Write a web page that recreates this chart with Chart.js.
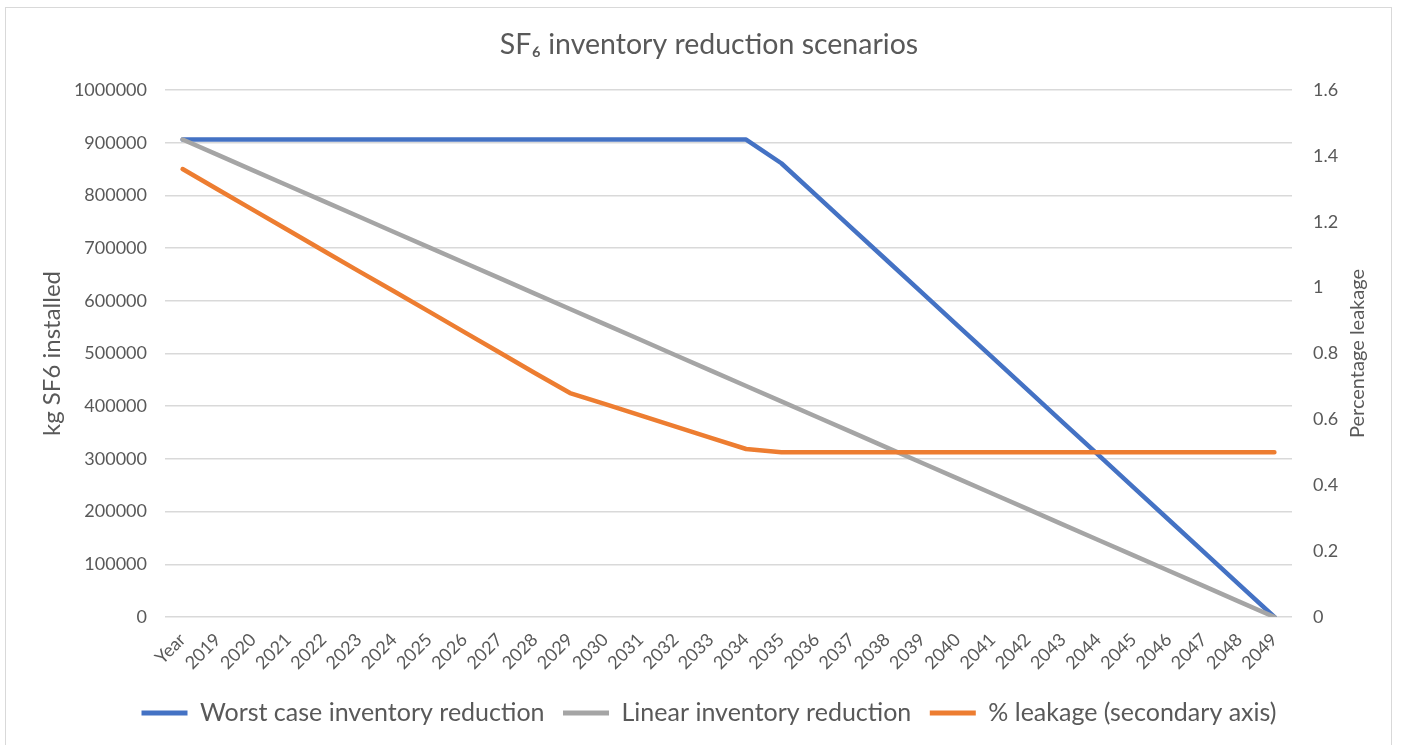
<!DOCTYPE html>
<html>
<head>
<meta charset="utf-8">
<title>SF6 inventory reduction scenarios</title>
<script src="https://cdn.jsdelivr.net/npm/chart.js@4.4.0/dist/chart.umd.min.js"></script>
<style>
    body { margin: 0; background: #fff; overflow: hidden; }
    #frame { position: absolute; left: 5px; top: 7px; width: 1385px; height: 800px; border: 1px solid #d9d9d9; }
    #wrap { position: absolute; left: 0; top: 0; width: 1403px; height: 745px; }
</style>
</head>
<body>
<div id="frame"></div>
<div id="wrap"><canvas id="sf6Chart"></canvas></div>
<script>
// Categories along the x axis
const years = ["Year", "2019", "2020", "2021", "2022", "2023", "2024", "2025", "2026", "2027", "2028",
    "2029", "2030", "2031", "2032", "2033", "2034", "2035", "2036", "2037", "2038",
    "2039", "2040", "2041", "2042", "2043", "2044", "2045", "2046", "2047", "2048", "2049"];

// kg SF6 installed (primary axis)
const worstCase = [906000, 906000, 906000, 906000, 906000, 906000, 906000, 906000, 906000, 906000, 906000,
    906000, 906000, 906000, 906000, 906000, 906000, 861000, 799500, 738000, 676500,
    615000, 553500, 492000, 430500, 369000, 307500, 246000, 184500, 123000, 61500, 0];

const linearReduction = [906000, 876800, 847500, 818300, 789100, 759900, 730600, 701400, 672200, 643000, 613700,
    584500, 555300, 526100, 496800, 467600, 438400, 409200, 379900, 350700, 321500,
    292300, 263000, 233800, 204600, 175400, 146100, 116900, 87700, 58500, 29200, 0];

// % leakage (secondary axis)
const leakage = [1.36, 1.298, 1.236, 1.174, 1.112, 1.05, 0.989, 0.927, 0.865, 0.803, 0.741,
    0.68, 0.646, 0.612, 0.578, 0.544, 0.51, 0.5, 0.5, 0.5, 0.5,
    0.5, 0.5, 0.5, 0.5, 0.5, 0.5, 0.5, 0.5, 0.5, 0.5, 0.5];

const textColor = "#595959";
const gridColor = "#d9d9d9";
const fontFamily = "Lato, 'Open Sans', sans-serif";

// Secondary axis title reads bottom-to-top like Excel, so draw it ourselves
const rightTitle = {
    id: "rightTitle",
    afterDraw(chart) {
        const area = chart.chartArea;
        const ctx = chart.ctx;
        ctx.save();
        ctx.translate(area.right + 66, (area.top + area.bottom) / 2);
        ctx.rotate(-Math.PI / 2);
        ctx.font = "20px " + fontFamily;
        ctx.fillStyle = textColor;
        ctx.textAlign = "center";
        ctx.textBaseline = "middle";
        ctx.fillText("Percentage leakage", 0, 0);
        ctx.restore();
    }
};

const lineStyle = {
    borderWidth: 4.5,
    pointRadius: 0,
    pointHoverRadius: 0,
    borderJoinStyle: "round",
    borderCapStyle: "round",
    tension: 0,
    fill: false
};

let ctx = document.getElementById("sf6Chart").getContext("2d");

new Chart(ctx, {
    type: "line",
    data: {
        labels: years,
        datasets: [
            {
                ...lineStyle,
                label: "Worst case inventory reduction",
                data: worstCase,
                borderColor: "#4472c4",
                backgroundColor: "#4472c4",
                yAxisID: "y",
                order: 2
            },
            {
                ...lineStyle,
                label: "Linear inventory reduction",
                data: linearReduction,
                borderColor: "#a5a5a5",
                backgroundColor: "#a5a5a5",
                yAxisID: "y",
                order: 1
            },
            {
                ...lineStyle,
                label: "% leakage (secondary axis)",
                data: leakage,
                borderColor: "#ed7d31",
                backgroundColor: "#ed7d31",
                yAxisID: "y1",
                order: 0
            }
        ]
    },
    options: {
        responsive: true,
        maintainAspectRatio: false,
        animation: false,
        layout: {
            padding: { left: 35, right: 20, top: 0, bottom: 9.5 }
        },
        scales: {
            x: {
                offset: true,
                // tall enough that the rotated labels are not clipped
                afterFit: (scale) => { scale.height = 65; },
                grid: { display: false, drawTicks: false },
                border: { display: false },
                ticks: {
                    color: textColor,
                    font: { family: fontFamily, size: 18 },
                    maxRotation: 45,
                    minRotation: 45,
                    autoSkip: false,
                    padding: 12
                }
            },
            y: {
                position: "left",
                min: 0,
                max: 1000000,
                afterFit: (scale) => { scale.width = 130; },
                ticks: {
                    stepSize: 100000,
                    color: textColor,
                    font: { family: fontFamily, size: 18 },
                    padding: 18,
                    callback: (v) => String(v)
                },
                grid: { color: gridColor, lineWidth: 1.5, drawTicks: false },
                border: { display: false },
                title: {
                    display: true,
                    text: "kg SF6 installed",
                    color: textColor,
                    font: { family: fontFamily, size: 24 },
                    padding: { top: 3, bottom: 0 }
                }
            },
            y1: {
                position: "right",
                min: 0,
                max: 1.6,
                afterFit: (scale) => { scale.width = 91; },
                ticks: {
                    stepSize: 0.2,
                    color: textColor,
                    font: { family: fontFamily, size: 18 },
                    padding: 21,
                    callback: (v) => String(+v.toFixed(1))
                },
                grid: { display: false, drawTicks: false },
                border: { display: false }
            }
        },
        plugins: {
            title: {
                display: true,
                text: "SF\u2086 inventory reduction scenarios",
                color: textColor,
                font: { family: fontFamily, size: 28.5, weight: "normal" },
                padding: { top: 27.9, bottom: 27.9 }
            },
            legend: {
                display: true,
                position: "bottom",
                labels: {
                    color: textColor,
                    font: { family: fontFamily, size: 25 },
                    boxWidth: 46,
                    boxHeight: 5,
                    padding: 18.5,
                    sort: (a, b) => a.datasetIndex - b.datasetIndex,
                    generateLabels: (chart) => {
                        let items = Chart.defaults.plugins.legend.labels.generateLabels(chart);
                        items.forEach(item => {
                            item.lineWidth = 0;
                            item.fillStyle = item.strokeStyle;
                        });
                        return items;
                    }
                }
            },
            tooltip: { enabled: false }
        }
    },
    plugins: [rightTitle]
});
</script>
</body>
</html>
